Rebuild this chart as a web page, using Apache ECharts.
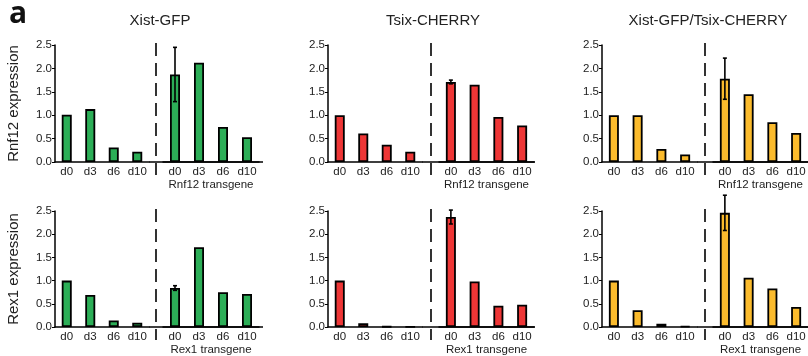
<!DOCTYPE html>
<html><head><meta charset="utf-8">
<script src="https://cdn.jsdelivr.net/npm/echarts@6/dist/echarts.min.js"></script>
<style>html,body{margin:0;padding:0;background:#fff}#c{width:808px;height:356px}</style>
</head><body><div id="c"></div>
<script>
const days = ['d0','d3','d6','d10'];
const yTickValues = [0, 0.5, 1.0, 1.5, 2.0, 2.5];
const panelTitles = ['Xist-GFP', 'Tsix-CHERRY', 'Xist-GFP/Tsix-CHERRY'];
const rowYNames = ['Rnf12 expression', 'Rex1 expression'];
const rowTgNames = ['Rnf12 transgene', 'Rex1 transgene'];
const colors = ['#2cae57', '#ee3636', '#fbbb2d'];

// Rnf12 row
const xistRnf12Endo = [1.01, 1.13, 0.31, 0.22];
const xistRnf12Tg = [1.87, 2.12, 0.75, 0.53];
const xistRnf12TgErr = [0.58, 0, 0, 0];
const tsixRnf12Endo = [1.0, 0.61, 0.37, 0.22];
const tsixRnf12Tg = [1.71, 1.65, 0.96, 0.78];
const tsixRnf12TgErr = [0.04, 0, 0, 0];
const dblRnf12Endo = [1.0, 1.0, 0.28, 0.16];
const dblRnf12Tg = [1.78, 1.45, 0.85, 0.62];
const dblRnf12TgErr = [0.44, 0, 0, 0];
// Rex1 row
const xistRex1Endo = [1.0, 0.69, 0.14, 0.09];
const xistRex1Tg = [0.84, 1.72, 0.75, 0.71];
const xistRex1TgErr = [0.05, 0, 0, 0];
const tsixRex1Endo = [1.0, 0.08, 0.01, 0.005];
const tsixRex1Tg = [2.37, 0.98, 0.46, 0.48];
const tsixRex1TgErr = [0.15, 0, 0, 0];
const dblRex1Endo = [1.0, 0.36, 0.07, 0.02];
const dblRex1Tg = [2.46, 1.06, 0.83, 0.43];
const dblRex1TgErr = [0.38, 0, 0, 0];

const rows = [
  [[xistRnf12Endo, xistRnf12Tg, xistRnf12TgErr], [tsixRnf12Endo, tsixRnf12Tg, tsixRnf12TgErr], [dblRnf12Endo, dblRnf12Tg, dblRnf12TgErr]],
  [[xistRex1Endo, xistRex1Tg, xistRex1TgErr], [tsixRex1Endo, tsixRex1Tg, tsixRex1TgErr], [dblRex1Endo, dblRex1Tg, dblRex1TgErr]]
];

// layout
const rowTop = [45, 211];
const rowH = [117, 116];
const cols = [
  {yAxisX: 55, lW: 94, rL: 163, rW: 96, dash: 156, axEnd: 263},
  {yAxisX: 328, lW: 94, rL: 439, rW: 95, dash: 431, axEnd: 535},
  {yAxisX: 602, lW: 95, rL: 713, rW: 95, dash: 705, axEnd: 808}
];
const FONT = 'Liberation Sans, Arial, sans-serif';

const grid = [], xAxis = [], yAxis = [], series = [], graphic = [];
function errRender(params, api) {
  const err = api.value(2);
  if (!err) return null;
  const x = api.coord([api.value(0), 0])[0];
  const yHi = api.coord([api.value(0), api.value(1) + err])[1];
  const yLo = api.coord([api.value(0), api.value(1) - err])[1];
  const st = {stroke: '#000', lineWidth: 1.6};
  return {type: 'group', children: [
    {type: 'line', shape: {x1: x, y1: yHi, x2: x, y2: yLo}, style: st},
    {type: 'line', shape: {x1: x - 2, y1: yHi, x2: x + 2, y2: yHi}, style: st},
    {type: 'line', shape: {x1: x - 2, y1: yLo, x2: x + 2, y2: yLo}, style: st}
  ]};
}

rows.forEach((row, ri) => {
  row.forEach((panel, ci) => {
    const c = cols[ci];
    const [endo, tg, err] = panel;
    const gl = grid.length;
    grid.push({left: c.yAxisX, top: rowTop[ri], width: c.lW, height: rowH[ri], outerBoundsMode: 'none', containLabel: false});
    grid.push({left: c.rL, top: rowTop[ri], width: c.rW, height: rowH[ri], outerBoundsMode: 'none', containLabel: false});
    [0, 1].forEach(side => {
      xAxis.push({
        type: 'category', gridIndex: gl + side, data: days,
        axisLine: {lineStyle: {color: '#000', width: 1.5}},
        axisTick: {length: 3, lineStyle: {color: '#000', width: 1}},
        axisLabel: {color: '#222', fontSize: 11.5, fontFamily: FONT, margin: 4, interval: 0, hideOverlap: false},
        name: side === 1 ? rowTgNames[ri] : '',
        nameLocation: 'middle', nameGap: 17,
        nameTextStyle: {color: '#222', fontSize: 11.5, fontFamily: FONT}
      });
      yAxis.push({
        type: 'value', gridIndex: gl + side, min: 0, max: 2.5, interval: 0.5,
        show: side === 0,
        splitLine: {show: false},
        axisLine: {show: true, lineStyle: {color: '#000', width: 1.5}},
        axisTick: {show: true, length: 3, lineStyle: {color: '#000', width: 1}},
        axisLabel: {color: '#222', fontSize: 11.5, fontFamily: FONT, margin: 3,
          formatter: v => yTickValues.includes(v) ? v.toFixed(1) : ''},
        name: ci === 0 ? rowYNames[ri] : '',
        nameLocation: 'middle', nameGap: 34,
        nameTextStyle: {color: '#222', fontSize: 15, fontFamily: FONT}
      });
      const vals = side === 0 ? endo : tg;
      series.push({
        type: 'bar', xAxisIndex: gl + side, yAxisIndex: gl + side,
        data: vals, barWidth: 10,
        itemStyle: {color: colors[ci], borderColor: '#000', borderWidth: 1.8},
        silent: true, animation: false
      });
      if (side === 1) {
        series.push({
          type: 'custom', xAxisIndex: gl + 1, yAxisIndex: gl + 1,
          data: days.map((d, i) => [i, tg[i], err[i]]),
          renderItem: errRender, animation: false, silent: true, z: 5
        });
      }
    });
    // axis line continuation through the gap
    const yAx = rowTop[ri] + rowH[ri];
    graphic.push({type: 'line', silent: true,
      shape: {x1: c.yAxisX + c.lW, y1: yAx, x2: c.axEnd, y2: yAx},
      style: {stroke: '#000', lineWidth: 1.5}});
    // dashed divider
    graphic.push({type: 'line', silent: true, z: 10,
      shape: {x1: c.dash, y1: rowTop[ri] - 2, x2: c.dash, y2: yAx + 13},
      style: {stroke: '#000', lineWidth: 1.6, lineDash: [13, 7]}});
  });
});

const title = panelTitles.map((t, i) => ({
  text: t, left: [155, 428, 703][i], top: 8, textAlign: 'center',
  textStyle: {fontSize: 15, fontWeight: 'normal', color: '#222', fontFamily: FONT}
}));
title.push({text: 'a', left: 4, top: -6,
  textStyle: {fontSize: 30, fontWeight: 'bold', color: '#111', fontFamily: 'Open Sans, sans-serif'}});

const chart = echarts.init(document.getElementById('c'), null, {renderer: 'canvas'});
chart.setOption({animation: false, title, grid, xAxis, yAxis, series, graphic});
</script></body></html>
